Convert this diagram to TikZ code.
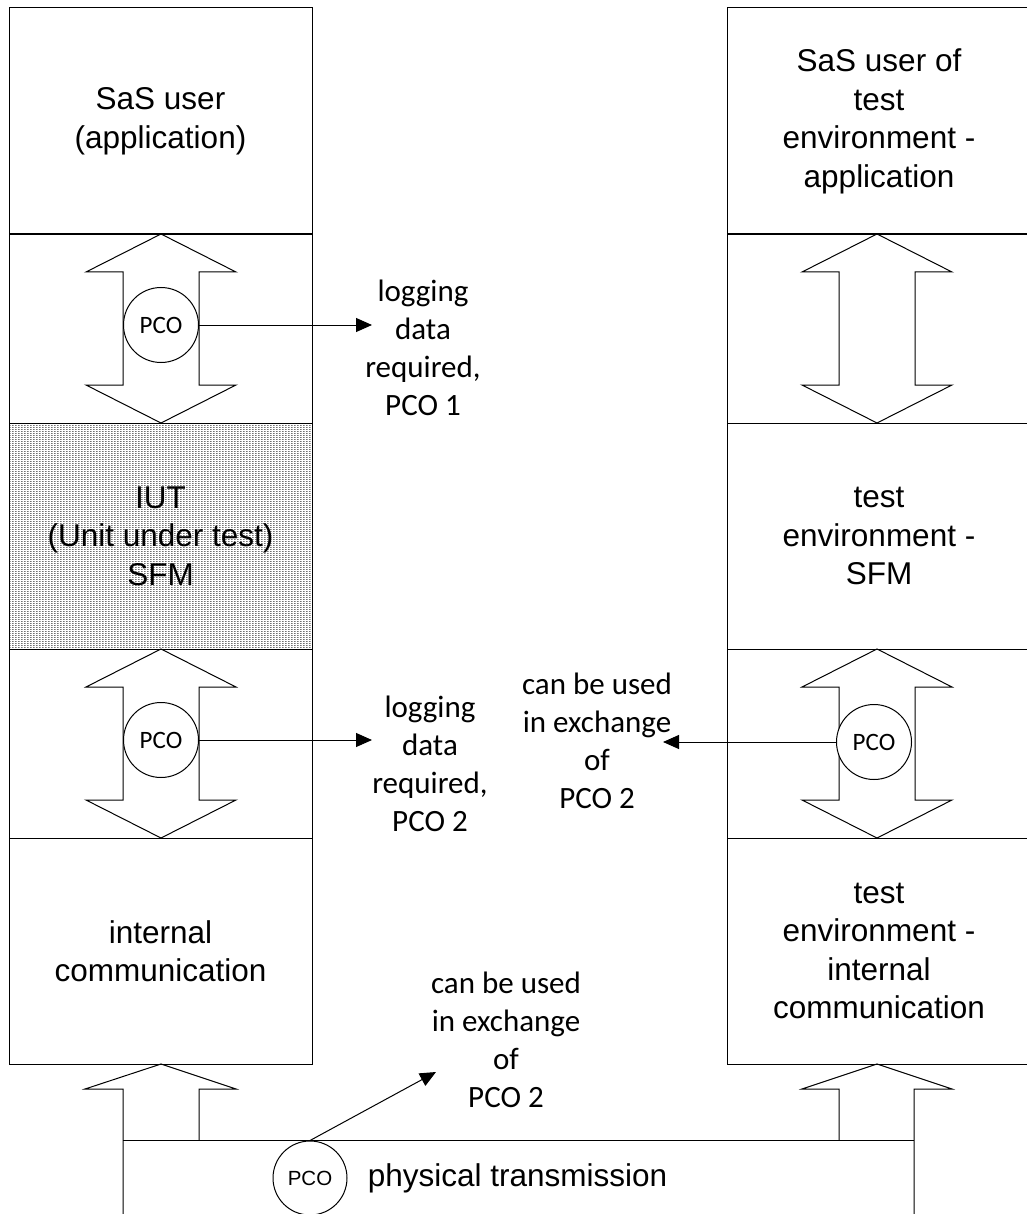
\documentclass[tikz,border=0pt]{standalone}
\usepackage{fontspec}
\setmainfont{Liberation Sans}
\newfontfamily\calibri{Carlito}
\usetikzlibrary{arrows.meta,patterns}
\pgfdeclarepatternformonly{stipple}{\pgfqpoint{0pt}{0pt}}{\pgfqpoint{3pt}{2pt}}{\pgfqpoint{3pt}{2pt}}{%
\pgfpathrectangle{\pgfqpoint{0pt}{0pt}}{\pgfqpoint{2pt}{1pt}}\pgfusepath{fill}}
\tikzset{every picture/.style={line width=1pt}}
\tikzstyle{layer}=[draw,rectangle,inner sep=0pt,align=center,font=\fontsize{31.5}{38.5}\selectfont]
\tikzstyle{pco}=[circle,draw,fill=white,minimum size=75pt,inner sep=0pt,font=\calibri\fontsize{25}{30}\selectfont]
\tikzstyle{note}=[align=center,font=\calibri\fontsize{31}{38}\selectfont]
\begin{document}
\begin{tikzpicture}[x=1pt,y=-1pt]
\useasboundingbox (0,0) rectangle (1026,1214);
% left stack
\node[layer,minimum width=303pt,minimum height=227pt] (user) at (160.5,121.5) {SaS user\\(application)};
\node[layer,minimum width=303pt,minimum height=189pt] (link1) at (160.5,328.5) {};
\node[layer,minimum width=303pt,minimum height=226pt,pattern=stipple,pattern color=black!85] (iut) at (160.5,536) {IUT\\(Unit under test)\\SFM};
\node[layer,minimum width=303pt,minimum height=189pt] (link2) at (160.5,743.5) {};
\node[layer,minimum width=303pt,minimum height=226pt] (intcom) at (160.5,951) {internal\\communication};
% right stack
\node[layer,minimum width=304pt,minimum height=227pt] (tuser) at (879,121.5) {SaS user of\\test\\environment -\\application};
\node[layer,minimum width=304pt,minimum height=189pt] (tlink1) at (879,328.5) {};
\node[layer,minimum width=304pt,minimum height=226pt] (tsfm) at (879,536) {test\\environment -\\SFM};
\node[layer,minimum width=304pt,minimum height=189pt] (tlink2) at (879,743.5) {};
\node[layer,minimum width=304pt,minimum height=226pt] (tintcom) at (879,951) {test\\environment -\\internal\\communication};
% double arrows
\foreach \x/\y in {161/234,161/649,877/234,877/649}
\draw (\x,\y) -- (\x+75,\y+38) -- (\x+38,\y+38) -- (\x+38,\y+151) -- (\x+75,\y+151) -- (\x,\y+189)
 -- (\x-75,\y+151) -- (\x-38,\y+151) -- (\x-38,\y+38) -- (\x-75,\y+38) -- cycle;
% physical transmission
\draw (123,1214) -- (123,1089) -- (85,1089) -- (161,1064) -- (236,1089) -- (199,1089) -- (199,1140);
\draw (839,1140) -- (839,1089) -- (802,1089) -- (877,1064) -- (952,1089) -- (914,1089) -- (914,1214);
\draw (123,1140) -- (914,1140);
% points of control and observation
\node[pco] (pco1) at (161,325) {PCO};
\node[pco] (pco2) at (161,740) {PCO};
\node[pco] (pco4) at (874,742) {PCO};
\node[pco,minimum size=74pt,font=\fontsize{20.5}{24}\selectfont] (pco3) at (310,1178) {PCO};
\node[anchor=west,font=\fontsize{31.5}{38.5}\selectfont] (phys) at (364,1178) {physical transmission};
% notes
\node[note] (log1) at (423,348) {logging\\data\\required,\\PCO 1};
\node[note] (log2) at (430,764) {logging\\data\\required,\\PCO 2};
\node[note] (exch1) at (597,741) {can be used\\in exchange\\of\\PCO 2};
\node[note] (exch2) at (506,1040) {can be used\\in exchange\\of\\PCO 2};
\coordinate (tip1) at (372,325);
\coordinate (tip2) at (372,740);
\coordinate (tip3) at (663,742);
\coordinate (tip4) at (436,1072);
\path[-{Triangle[length=16pt,width=14pt]}]
(pco1) edge (tip1)
(pco2) edge (tip2)
(pco4) edge (tip3)
(pco3.north) edge (tip4);
\end{tikzpicture}
\end{document}
